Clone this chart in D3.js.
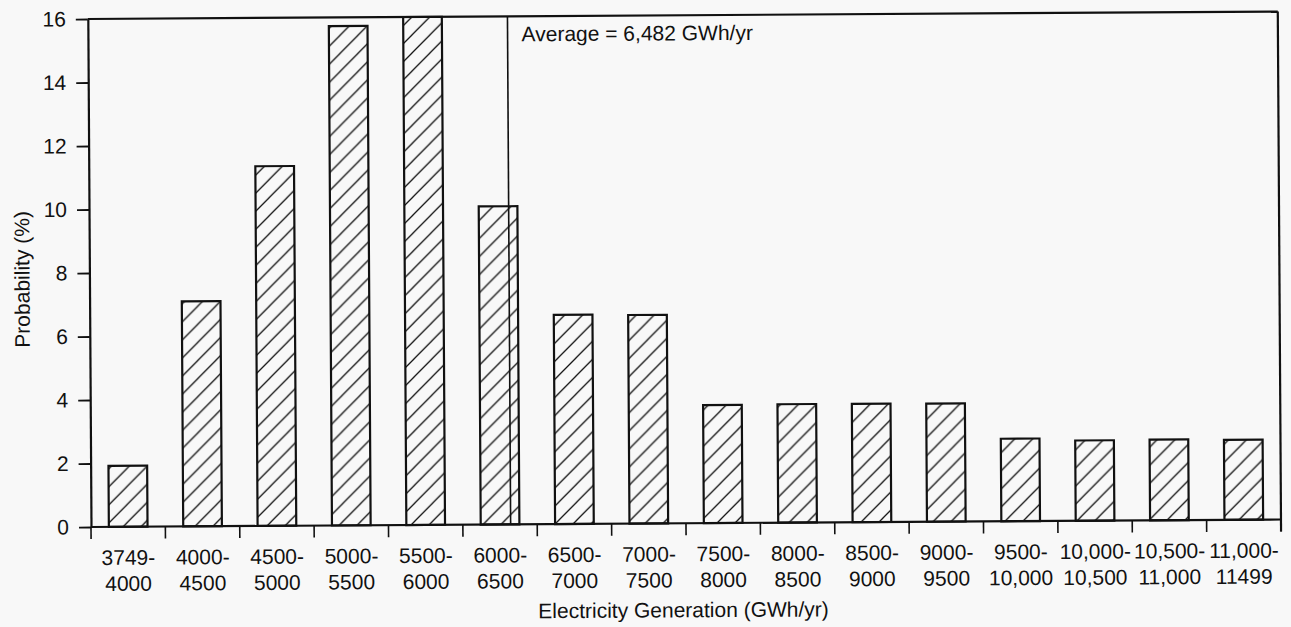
<!DOCTYPE html>
<html>
<head>
<meta charset="utf-8">
<script src="https://cdn.jsdelivr.net/npm/d3@7"></script>
<style>
  html, body { margin: 0; padding: 0; background: #f8f8f8; }
  svg { display: block; }
  text { font-family: "Liberation Sans", Arial, Helvetica, sans-serif; fill: #111; }
</style>
</head>
<body>
<svg id="chart" width="1291" height="627"></svg>
<script>
// Generation bins (GWh/yr) and the probability of each bin (%)
const categories = [
  "3749-4000", "4000-4500", "4500-5000", "5000-5500", "5500-6000", "6000-6500",
  "6500-7000", "7000-7500", "7500-8000", "8000-8500", "8500-9000", "9000-9500",
  "9500-10,000", "10,000-10,500", "10,500-11,000", "11,000-11499"
];
const probability = [
  1.92, 7.09, 11.33, 15.73, 16.0, 10.02,
  6.59, 6.57, 3.72, 3.73, 3.73, 3.72,
  2.60, 2.53, 2.54, 2.52
];
const yTicks = [0, 2, 4, 6, 8, 10, 12, 14, 16];
const generationRange = [3749, 11499];
const averageGeneration = 6482;
const averageLabel = "Average = 6,482 GWh/yr";
const xTitle = "Electricity Generation (GWh/yr)";
const yTitle = "Probability (%)";

const W = 1190, H = 508;
const ink = "#111";
const paper = "#f8f8f8";

const svg = d3.select("#chart");
svg.append("rect").attr("width", 1291).attr("height", 627).attr("fill", paper);

// diagonal hatch used inside the bars
const defs = svg.append("defs");
const pat = defs.append("pattern")
  .attr("id", "hatch").attr("patternUnits", "userSpaceOnUse")
  .attr("width", 18).attr("height", 18);
pat.append("rect").attr("width", 18).attr("height", 18).attr("fill", paper);
pat.append("path")
  .attr("d", "M-4.5,4.5 L4.5,-4.5 M0,18 L18,0 M13.5,22.5 L22.5,13.5")
  .attr("stroke", ink).attr("stroke-width", 1.3);

// the whole plot sits very slightly tilted on the page
const g = svg.append("g")
  .attr("transform", "translate(91,527) rotate(-0.36) translate(0,-508)");

const x = d3.scaleBand().domain(categories).range([0, W])
  .paddingInner(0.48).paddingOuter(0.24);
const step = x.step();
const y = d3.scaleLinear().domain([0, 16]).range([H, 0]);
const gen = d3.scaleLinear().domain(generationRange).range([0, W]);

// bars
g.selectAll("rect.bar").data(categories).join("rect")
  .attr("class", "bar")
  .attr("x", d => x(d))
  .attr("width", x.bandwidth())
  .attr("y", (d, i) => y(probability[i]))
  .attr("height", (d, i) => H - y(probability[i]))
  .attr("fill", "url(#hatch)")
  .attr("stroke", ink).attr("stroke-width", 2.2);

// y axis
const yAxis = g.append("g")
  .call(d3.axisLeft(y).tickValues(yTicks).tickSize(12).tickSizeOuter(0).tickPadding(10));
yAxis.select(".domain").attr("stroke", ink).attr("stroke-width", 2.2);
yAxis.selectAll(".tick line").attr("stroke", ink).attr("stroke-width", 1.8);
yAxis.selectAll(".tick text")
  .attr("font-size", 21).attr("fill", ink)
  .attr("font-family", "Liberation Sans, Arial, Helvetica, sans-serif");

// frame: baseline, top and right edges
g.append("line").attr("x1", 0).attr("x2", W).attr("y1", H).attr("y2", H)
  .attr("stroke", ink).attr("stroke-width", 2.2);
g.append("line").attr("x1", 0).attr("x2", W).attr("y1", 0).attr("y2", 0)
  .attr("stroke", ink).attr("stroke-width", 2.2);
g.append("line").attr("x1", W).attr("x2", W).attr("y1", 0).attr("y2", H + 12)
  .attr("stroke", ink).attr("stroke-width", 2.2);

// x ticks on the bin boundaries
const boundaries = categories.map(d => x(d) - step * x.paddingOuter()).concat([W]);
g.selectAll("line.xtick").data(boundaries).join("line")
  .attr("class", "xtick")
  .attr("x1", d => d).attr("x2", d => d)
  .attr("y1", H).attr("y2", H + 12)
  .attr("stroke", ink).attr("stroke-width", 1.6);

// two-line bin labels
const lbl = g.selectAll("text.xlab").data(categories).join("text")
  .attr("class", "xlab")
  .attr("text-anchor", "middle")
  .attr("font-size", 21);
lbl.append("tspan")
  .attr("x", d => x(d) + x.bandwidth() / 2).attr("y", H + 38)
  .text(d => d.slice(0, d.indexOf("-") + 1));
lbl.append("tspan")
  .attr("x", d => x(d) + x.bandwidth() / 2).attr("y", H + 64)
  .text(d => d.slice(d.indexOf("-") + 1));

// axis titles
g.append("text").attr("x", 592).attr("y", H + 94)
  .attr("text-anchor", "middle").attr("font-size", 21).text(xTitle);
g.append("text")
  .attr("transform", `translate(-60,${260}) rotate(-90)`)
  .attr("text-anchor", "middle").attr("font-size", 21).text(yTitle);

// average marker
const ax = gen(averageGeneration);
g.append("line").attr("x1", ax).attr("x2", ax).attr("y1", 0).attr("y2", H)
  .attr("stroke", ink).attr("stroke-width", 1.6);
g.append("text").attr("x", ax + 14).attr("y", 25)
  .attr("font-size", 21).text(averageLabel);
</script>
</body>
</html>
